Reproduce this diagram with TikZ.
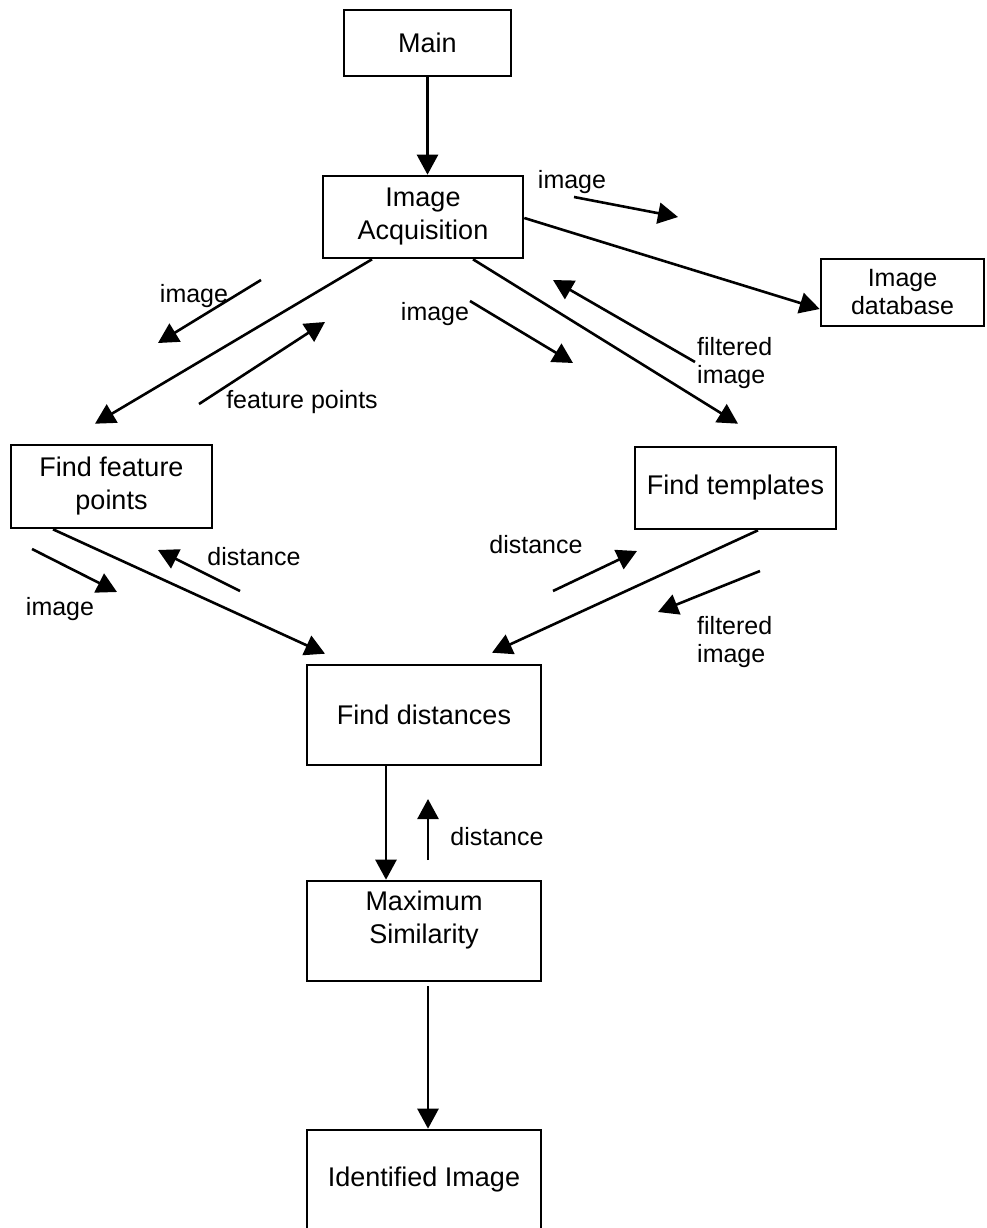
\documentclass[tikz,border=0pt]{standalone}
\usepackage{fontspec}
\setmainfont{Liberation Sans}
\usetikzlibrary{arrows.meta}
\begin{document}
\begin{tikzpicture}[x=1pt,y=-1pt,
  box/.style={draw, line width=2.6pt, inner sep=0pt, align=center,
    font=\fontsize{27}{33}\selectfont},
  lbl/.style={inner sep=0pt, font=\fontsize{25}{28}\selectfont},
  arr/.style={line width=2.6pt, -{Triangle[length=20pt,width=21pt]}}]
\useasboundingbox (0,0) rectangle (986,1228);
\clip (0,0) rectangle (986,1228);

% process boxes
\node[box, minimum width=167pt, minimum height=66pt] (main) at (427.5,43) {Main};
\node[box, minimum width=200pt, minimum height=82pt] (ia) at (423,217) {Image\\Acquisition};
\node[box, minimum width=163pt, minimum height=67pt, font=\fontsize{25}{28}\selectfont] (db) at (902.5,292.5) {Image\\database};
\node[box, minimum width=201pt, minimum height=83pt] (ffp) at (111.5,486.5) {Find feature\\points};
\node[box, minimum width=201pt, minimum height=82pt] (ft) at (735.5,488) {Find templates};
\node[box, minimum width=234pt, minimum height=100pt] (fd) at (424,715) {Find distances};
\node[box, minimum width=234pt, minimum height=100pt, text depth=28pt] (ms) at (424,931) {Maximum\\Similarity};
\node[box, minimum width=234pt, minimum height=100pt] (ii) at (424,1180) {Identified Image};

% data flows between boxes
\draw[arr] (main.south) -- (main.south |- ia.north);
\draw[arr] ([shift={(0,1)}]ia.east) -- ([shift={(0,16.5)}]db.west);
\draw[arr] ([xshift=-51pt]ia.south) -- ([shift={(-16.5,-20)}]ffp.north);
\draw[arr] ([xshift=50pt]ia.south) -- ([shift={(2.5,-22)}]ft.north);
\draw[arr] ([xshift=-58.5pt]ffp.south) -- ([shift={(-99,-10)}]fd.north);
\draw[arr] ([xshift=22.5pt]ft.south) -- ([shift={(68,-11)}]fd.north);
\draw[arr] ([xshift=-38pt]fd.south) -- ([xshift=-38pt]ms.north);
\draw[arr, shorten <=4pt] ([xshift=4pt]ms.south) -- ([xshift=4pt]ii.north);

% labelled direction markers
\coordinate (m1s) at (574,197);  \coordinate (m1e) at (678,217);
\coordinate (m2s) at (261,280);  \coordinate (m2e) at (158,343);
\coordinate (m3s) at (199,404);  \coordinate (m3e) at (325,322);
\coordinate (m4s) at (470,301);  \coordinate (m4e) at (573,363);
\coordinate (m5s) at (695,362);  \coordinate (m5e) at (553,280);
\coordinate (m6s) at (32,549);   \coordinate (m6e) at (117,592);
\coordinate (m7s) at (240,591);  \coordinate (m7e) at (158,550);
\coordinate (m8s) at (553,591);  \coordinate (m8e) at (637,551);
\coordinate (m9s) at (760,571);  \coordinate (m9e) at (658,612);
\coordinate (m10s) at (428,860); \coordinate (m10e) at (428,799);

\foreach \i in {1,...,10} \draw[arr] (m\i s) -- (m\i e);

\node[lbl] (l1) at (572,182) {image};
\node[lbl] (l2) at (194,296) {image};
\node[lbl] (l3) at (302,402) {feature points};
\node[lbl] (l4) at (435,314) {image};
\node[lbl, anchor=west, align=left] (l5) at (697,363.5) {filtered\\image};
\node[lbl] (l6) at (60,609) {image};
\node[lbl] (l7) at (254,557) {distance};
\node[lbl] (l8) at (536,545) {distance};
\node[lbl, anchor=west, align=left] (l9) at (697,642) {filtered\\image};
\node[lbl] (l10) at (497,837) {distance};
\end{tikzpicture}
\end{document}
